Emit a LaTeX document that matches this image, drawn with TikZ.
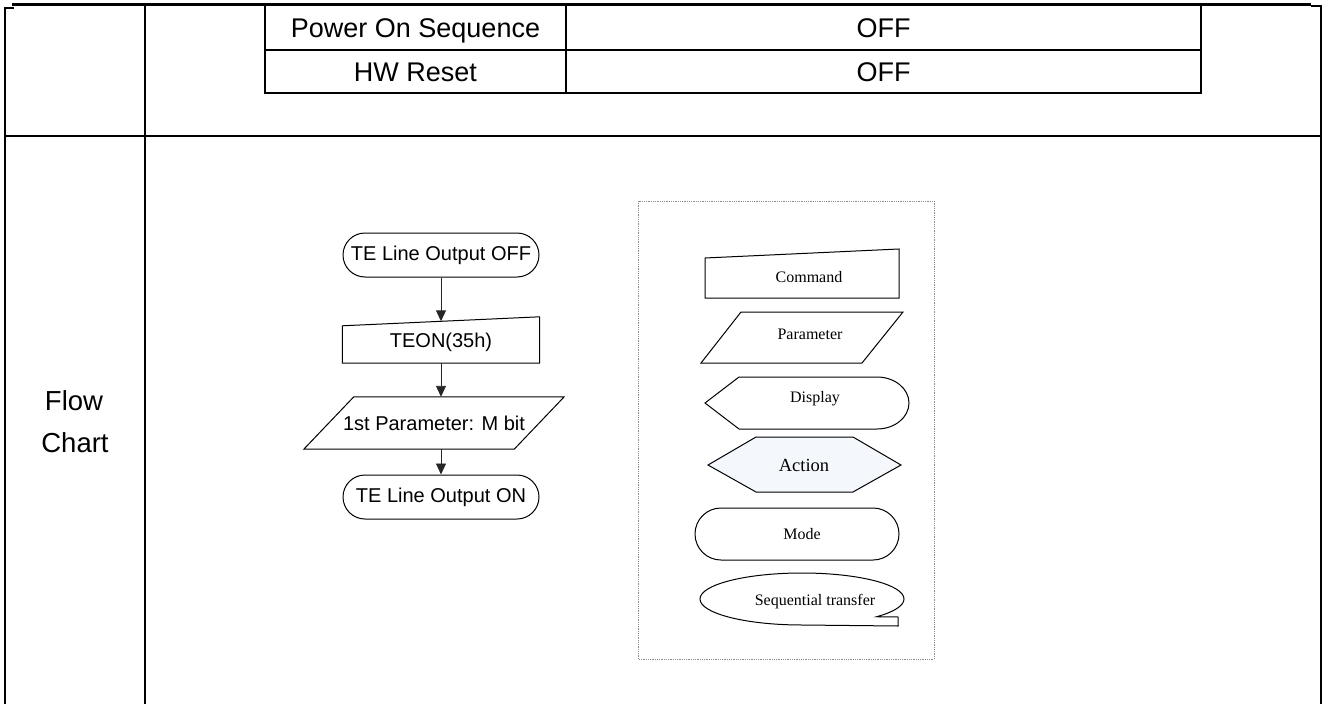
\documentclass[tikz,border=0pt]{standalone}
\usepackage{fontspec}
\setmainfont{Liberation Sans}
\newfontfamily\legendfont{Liberation Serif}
\usepackage{tikz}
\usetikzlibrary{arrows.meta, calc}
\definecolor{actfill}{RGB}{244, 247, 252}
\definecolor{dotgray}{RGB}{140, 140, 140}

\begin{document}
\begin{tikzpicture}[x=1pt, y=-1pt,
    rule/.style={line width=2pt},
    cell/.style={font=\fontsize{27}{30}\selectfont, anchor=base},
    oval/.style={draw, line width=1pt, rounded corners=22pt, minimum width=196pt, minimum height=44pt, font=\fontsize{20}{24}\selectfont},
    box/.style={minimum width=197pt, minimum height=41.5pt, font=\fontsize{20}{24}\selectfont},
    slant/.style={minimum width=210pt, minimum height=52pt, font=\fontsize{20}{24}\selectfont},
    arr/.style={draw=black!85, line width=0.9pt, -{Triangle[length=11pt, width=10pt]}},
    shp/.style={line width=1pt},
    legend/.style={font=\legendfont\fontsize{16}{19}\selectfont}]
        \useasboundingbox (0,0) rectangle (1326,704);

        % Outer table frame
        \draw[line width=3pt] (12,4.5) -- (1311,4.5);
        \draw[rule] (5,704) -- (5,7.5) -- (14,7.5);
        \draw[rule] (1311,5.5) -- (1321,5.5) -- (1321,704);
        \draw[rule] (145,5) -- (145,704);
        \draw[rule] (5,136) -- (1321,136);

        % Inner table
        \draw[rule] (265,5) -- (265,92.5) -- (1201,92.5) -- (1201,5);
        \draw[rule] (265,50) -- (1201,50);
        \draw[rule] (566,5) -- (566,92.5);
        \node[cell] (seqname) at (415.5,37) {Power On Sequence};
        \node[cell] (seqval) at (883.5,37) {OFF};
        \node[cell] (rstname) at (415.5,81) {HW Reset};
        \node[cell] (rstval) at (883.5,81) {OFF};

        % Row label
        \node[cell, font=\fontsize{27.5}{30}\selectfont] (lblflow) at (74,410) {Flow};
        \node[cell, font=\fontsize{27.5}{30}\selectfont] (lblchart) at (75,452) {Chart};

        % Flow chart
        \node[oval] (teoff) at (441,255) {TE Line Output OFF};
        \node[box] (teon) at (441,342.25) {TEON(35h)};
        \draw[shp] ([yshift=-4.5pt]teon.north west) -- ([yshift=4.5pt]teon.north east)
            -- (teon.south east) -- (teon.south west) -- cycle;
        \node[slant] (mbit) at (434,423) {1st Parameter: M bit};
        \draw[shp] ([xshift=25pt]mbit.north west) -- ([xshift=25pt]mbit.north east)
            -- ([xshift=-25pt]mbit.south east) -- ([xshift=-25pt]mbit.south west) -- cycle;
        \node[oval] (teouton) at (441,497) {TE Line Output ON};

        \draw[arr] (teoff) -- (teon);
        \draw[arr] (teon.south) -- (teon.south |- mbit.north);
        \draw[arr] (teon.south |- mbit.south) -- (teouton);

        % Legend
        \draw[dotgray, densely dotted, line width=0.8pt] (638,201) rectangle (934,659);

        \draw[shp] (705,258) -- (899,249) -- (899,298) -- (705,298) -- cycle;
        \node[legend] (lgcmd) at (809,277) {Command};

        \draw[shp] (741,312) -- (903,312) -- (862,363) -- (701,363) -- cycle;
        \node[legend] (lgpar) at (810,334) {Parameter};

        \draw[shp] (705,403) -- (739,377) -- (877,377)
            arc[start angle=90, end angle=-90, x radius=32pt, y radius=26pt] -- (739,429) -- cycle;
        \node[legend] (lgdisp) at (815,399) {Display};

        \draw[shp, fill=actfill] (708,465) -- (756,437) -- (853,437) -- (901,465) -- (853,492) -- (756,492) -- cycle;
        \node[legend, font=\legendfont\fontsize{18.5}{22}\selectfont] (lgact) at (804,465) {Action};

        \draw[shp, rounded corners=26pt] (695,508) rectangle (899,560);
        \node[legend] (lgmode) at (802,534) {Mode};

        \draw[shp] (802,625) arc[start angle=270, end angle=-43, x radius=102pt, y radius=26pt]
            -- (898,617) -- (898,626) -- cycle;
        \node[legend] (lgseq) at (815,602) {Sequential transfer};
    \end{tikzpicture}
\end{document}
